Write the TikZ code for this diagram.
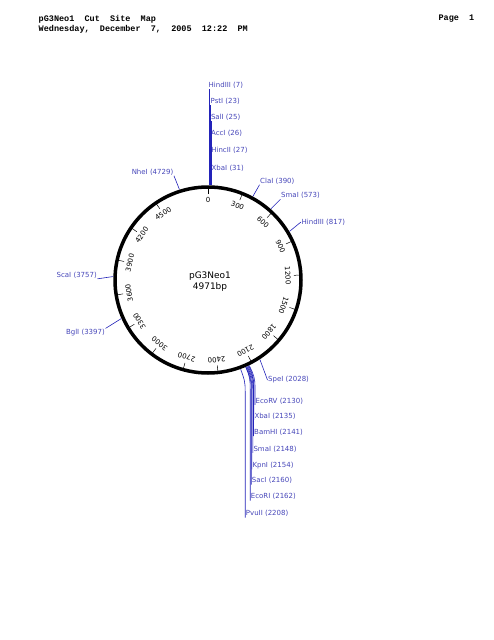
\documentclass[tikz,border=0pt]{standalone}
\usepackage{fontspec}
\setmainfont{DejaVu Sans}
\newfontfamily\hdrfont{Liberation Mono}
\usetikzlibrary{calc}

\definecolor{sitetext}{RGB}{70,70,185}
\definecolor{siteline}{RGB}{35,35,185}
% angle on the map for a base pair position
\newcommand{\siteang}[1]{#1/4971*360-90}

\tikzset{
  site/.style={font=\fontsize{7}{8}\selectfont, text=sitetext, inner sep=0.5pt},
  leader/.style={draw=siteline, line width=0.6pt},
  scalelab/.style={font=\fontsize{7}{8}\selectfont, inner sep=0pt},
  hdr/.style={font=\hdrfont\bfseries\fontsize{8.5}{10}\selectfont, inner sep=0pt}
}

\begin{document}
\begin{tikzpicture}[x=1pt, y=-1pt]
  \useasboundingbox (0,0) rectangle (494,640);

  %Header
  \node[hdr, anchor=west] (title) at (38.5,19) {pG3Neo1~ Cut~ Site~ Map};
  \node[hdr, anchor=west] (date) at (38.5,29) {Wednesday,~ December~ 7,~ 2005~ 12:22~ PM};
  \node[hdr, anchor=east] (page) at (474.5,19) {Page~ 1};

  %Plasmid circle and scale
  \begin{scope}[shift={(208,280)}]
    \draw[line width=3.5pt] (0,0) circle [radius=93pt];
    \node[align=center, font=\fontsize{9}{11.5}\selectfont, inner sep=0pt] (plasmid) at (2,1.5) {pG3Neo1\\4971bp};
    \foreach \p in {0,300,...,4500}{
      \draw[line width=0.5pt] ({\siteang{\p}}:86) -- ({\siteang{\p}}:92);
      \node[scalelab, rotate={-\p/4971*360}] at ({\siteang{\p}}:80) {\p};
    }
    % cut sites on the circle
    \coordinate (c7)    at ({\siteang{7}}:95);
    \coordinate (c23)   at ({\siteang{23}}:95);
    \coordinate (c25)   at ({\siteang{25}}:95);
    \coordinate (c26)   at ({\siteang{26}}:95);
    \coordinate (c27)   at ({\siteang{27}}:95);
    \coordinate (c31)   at ({\siteang{31}}:95);
    \coordinate (c390)  at ({\siteang{390}}:95);
    \coordinate (c573)  at ({\siteang{573}}:95);
    \coordinate (c817)  at ({\siteang{817}}:95);
    \coordinate (c2028) at ({\siteang{2028}}:95);
    \coordinate (c2130) at ({\siteang{2130}}:95);
    \coordinate (c2135) at ({\siteang{2135}}:95);
    \coordinate (c2141) at ({\siteang{2141}}:95);
    \coordinate (c2148) at ({\siteang{2148}}:95);
    \coordinate (c2154) at ({\siteang{2154}}:95);
    \coordinate (c2160) at ({\siteang{2160}}:95);
    \coordinate (c2162) at ({\siteang{2162}}:95);
    \coordinate (c2208) at ({\siteang{2208}}:95);
    \coordinate (c3397) at ({\siteang{3397}}:95);
    \coordinate (c3757) at ({\siteang{3757}}:95);
    \coordinate (c4729) at ({\siteang{4729}}:95);
  \end{scope}

  %Define nodes
  \node[site, anchor=west] (hind7)   at (208,85)    {HindIII (7)};
  \node[site, anchor=west] (pst)     at (210,101)   {PstI (23)};
  \node[site, anchor=west] (sal)     at (210.3,117) {SalI (25)};
  \node[site, anchor=west] (acc)     at (210.4,133) {AccI (26)};
  \node[site, anchor=west] (hinc)    at (210.6,150) {HincII (27)};
  \node[site, anchor=west] (xba31)   at (211,168)   {XbaI (31)};
  \node[site, anchor=east] (nhe)     at (174,172)   {NheI (4729)};
  \node[site, anchor=west] (cla)     at (259.5,181) {ClaI (390)};
  \node[site, anchor=west] (sma573)  at (280.5,195.5) {SmaI (573)};
  \node[site, anchor=west] (hind817) at (301,222)   {HindIII (817)};
  \node[site, anchor=east] (sca)     at (97.5,275)  {ScaI (3757)};
  \node[site, anchor=east] (bgl)     at (105.5,332.5) {BglI (3397)};
  \node[site, anchor=west] (spe)     at (267.5,380) {SpeI (2028)};
  \node[site, anchor=west] (ecorv)   at (255,401)   {EcoRV (2130)};
  \node[site, anchor=west] (xba2135) at (253.8,416) {XbaI (2135)};
  \node[site, anchor=west] (bam)     at (253.5,432.3) {BamHI (2141)};
  \node[site, anchor=west] (sma2148) at (252.8,449) {SmaI (2148)};
  \node[site, anchor=west] (kpn)     at (251.8,465.3) {KpnI (2154)};
  \node[site, anchor=west] (sac)     at (251.2,480.7) {SacI (2160)};
  \node[site, anchor=west] (ecori)   at (250.2,496.7) {EcoRI (2162)};
  \node[site, anchor=west] (pvu)     at (245.2,513.7) {PvuII (2208)};

  % Connect the nodes
  \draw[leader] (c7) -- (c7 |- hind7.south);
  \draw[leader] (c23) -- (c23 |- pst.south);
  \draw[leader] (c25) -- (c25 |- sal.south);
  \draw[leader] (c26) -- (c26 |- acc.south);
  \draw[leader] (c27) -- (c27 |- hinc.south);
  \draw[leader] (c31) -- (c31 |- xba31.south);
  \draw[leader] (c4729) -- (nhe.south east);
  \draw[leader] (c390) -- (cla.south west);
  \draw[leader] (c573) -- (sma573.south west);
  \draw[leader] (c817) -- (hind817.west);
  \draw[leader] (c3757) -- (sca.south east);
  \draw[leader] (c3397) -- (bgl.north east);
  \draw[leader] (c2028) -- (spe.west);
  \draw[leader] (c2130) .. controls +({\siteang{2130}}:10) and +(0,-10) .. ($(ecorv.south west |- c2130)+(0,22)$) -- (ecorv.south west);
  \draw[leader] (c2135) .. controls +({\siteang{2135}}:10) and +(0,-10) .. ($(xba2135.south west |- c2135)+(0,22)$) -- (xba2135.south west);
  \draw[leader] (c2141) .. controls +({\siteang{2141}}:10) and +(0,-10) .. ($(bam.south west |- c2141)+(0,22)$) -- (bam.south west);
  \draw[leader] (c2148) .. controls +({\siteang{2148}}:10) and +(0,-10) .. ($(sma2148.south west |- c2148)+(0,22)$) -- (sma2148.south west);
  \draw[leader] (c2154) .. controls +({\siteang{2154}}:10) and +(0,-10) .. ($(kpn.south west |- c2154)+(0,22)$) -- (kpn.south west);
  \draw[leader] (c2160) .. controls +({\siteang{2160}}:10) and +(0,-10) .. ($(sac.south west |- c2160)+(0,22)$) -- (sac.south west);
  \draw[leader] (c2162) .. controls +({\siteang{2162}}:10) and +(0,-10) .. ($(ecori.south west |- c2162)+(0,22)$) -- (ecori.south west);
  \draw[leader] (c2208) .. controls +({\siteang{2208}}:10) and +(0,-10) .. ($(pvu.south west |- c2208)+(0,22)$) -- (pvu.south west);
\end{tikzpicture}
\end{document}
